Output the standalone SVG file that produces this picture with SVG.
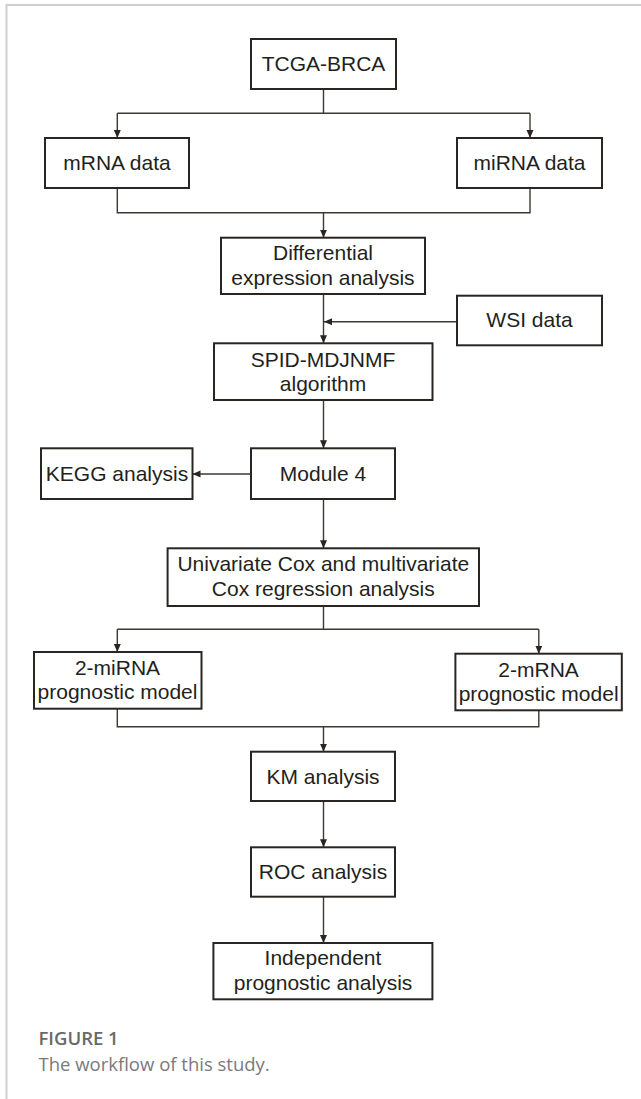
<svg xmlns="http://www.w3.org/2000/svg" width="641" height="1099" viewBox="0 0 641 1099">
<defs>
<marker id="arr" markerUnits="userSpaceOnUse" markerWidth="9" markerHeight="8" refX="8" refY="3.5" orient="auto">
<path d="M0,0 L8,3.5 L0,7 z" fill="#2b2522"/>
</marker>
<style>
.box{fill:#fff;stroke:#2b2522;stroke-width:2}
.lbl{font-family:"Liberation Sans",Arial,sans-serif;font-size:21px;fill:#231f20;text-anchor:middle}
.ln{fill:none;stroke:#3d3835;stroke-width:1.4}
.ar{fill:none;stroke:#3d3835;stroke-width:1.4;marker-end:url(#arr)}
.cap1{font-family:"Open Sans","Noto Sans",sans-serif;font-size:18.5px;font-weight:600;fill:#696969}
.cap2{font-family:"Open Sans","Noto Sans",sans-serif;font-size:18.5px;fill:#7a7a7a}
</style>
</defs>
<rect width="641" height="1099" fill="#fff"/>
<path d="M6.5,1099 V5 H641" fill="none" stroke="#cfcfcf" stroke-width="2"/>

<g id="connectors">
<path class="ln" d="M323.5,89 V113.3 M117.3,113.3 H530"/>
<path class="ar" d="M117.3,113.3 V138"/>
<path class="ar" d="M530,113.3 V138"/>
<path class="ln" d="M117.3,188 V212.7 H530 V188"/>
<path class="ar" d="M323.5,212.7 V237.7"/>
<path class="ar" d="M323.5,294 V343.3"/>
<path class="ar" d="M457,321.7 H324"/>
<path class="ar" d="M323.5,400 V448.3"/>
<path class="ar" d="M251,474 H192.5"/>
<path class="ar" d="M323.5,499 V548.3"/>
<path class="ln" d="M323.5,605 V629.3 M117.3,629.3 H538.8"/>
<path class="ar" d="M117.3,629.3 V652"/>
<path class="ar" d="M538.8,629.3 V653.7"/>
<path class="ln" d="M117.3,708.7 V726.7 H538.8 V710.3"/>
<path class="ar" d="M323.5,726.7 V751.7"/>
<path class="ar" d="M323.5,801 V847.3"/>
<path class="ar" d="M323.5,896.7 V943"/>
</g>

<g id="tcga"><rect class="box" x="251" y="39" width="145" height="50"/><text class="lbl" x="323.5" y="71">TCGA-BRCA</text></g>
<g id="mrna"><rect class="box" x="45" y="138" width="144" height="50"/><text class="lbl" x="117" y="170">mRNA data</text></g>
<g id="mirna"><rect class="box" x="457" y="138" width="145" height="50"/><text class="lbl" x="529.5" y="170">miRNA data</text></g>
<g id="dea"><rect class="box" x="221" y="237.7" width="204" height="56.3"/><text class="lbl" x="323" y="260">Differential</text><text class="lbl" x="323" y="284.5">expression analysis</text></g>
<g id="wsi"><rect class="box" x="457" y="295.7" width="145" height="49.6"/><text class="lbl" x="529.5" y="327">WSI data</text></g>
<g id="spid"><rect class="box" x="214" y="343.3" width="218.5" height="56.7"/><text class="lbl" x="323" y="367">SPID-MDJNMF</text><text class="lbl" x="323" y="391">algorithm</text></g>
<g id="kegg"><rect class="box" x="41" y="448.3" width="151.5" height="50.7"/><text class="lbl" x="117" y="481">KEGG analysis</text></g>
<g id="module4"><rect class="box" x="251" y="448.3" width="144" height="50.7"/><text class="lbl" x="323" y="481">Module 4</text></g>
<g id="cox"><rect class="box" x="167.6" y="548.3" width="311.4" height="57.7"/><text class="lbl" x="323.3" y="570.5">Univariate Cox and multivariate</text><text class="lbl" x="323.3" y="595.5">Cox regression analysis</text></g>
<g id="mirna2"><rect class="box" x="34" y="652" width="167.5" height="56.7"/><text class="lbl" x="117.5" y="675">2-miRNA</text><text class="lbl" x="117.5" y="699">prognostic model</text></g>
<g id="mrna2"><rect class="box" x="455.4" y="653.7" width="166.4" height="56.6"/><text class="lbl" x="538.6" y="677">2-mRNA</text><text class="lbl" x="538.6" y="701">prognostic model</text></g>
<g id="km"><rect class="box" x="251" y="751.7" width="144" height="49.3"/><text class="lbl" x="323" y="783.5">KM analysis</text></g>
<g id="roc"><rect class="box" x="251" y="847.3" width="144" height="49.4"/><text class="lbl" x="323" y="878.5">ROC analysis</text></g>
<g id="indep"><rect class="box" x="213.4" y="943" width="219" height="56.3"/><text class="lbl" x="323" y="965">Independent</text><text class="lbl" x="323" y="989.5">prognostic analysis</text></g>

<text class="cap1" x="38.5" y="1045">FIGURE 1</text>
<text class="cap2" x="38.5" y="1070.5">The workflow of this study.</text>
</svg>
